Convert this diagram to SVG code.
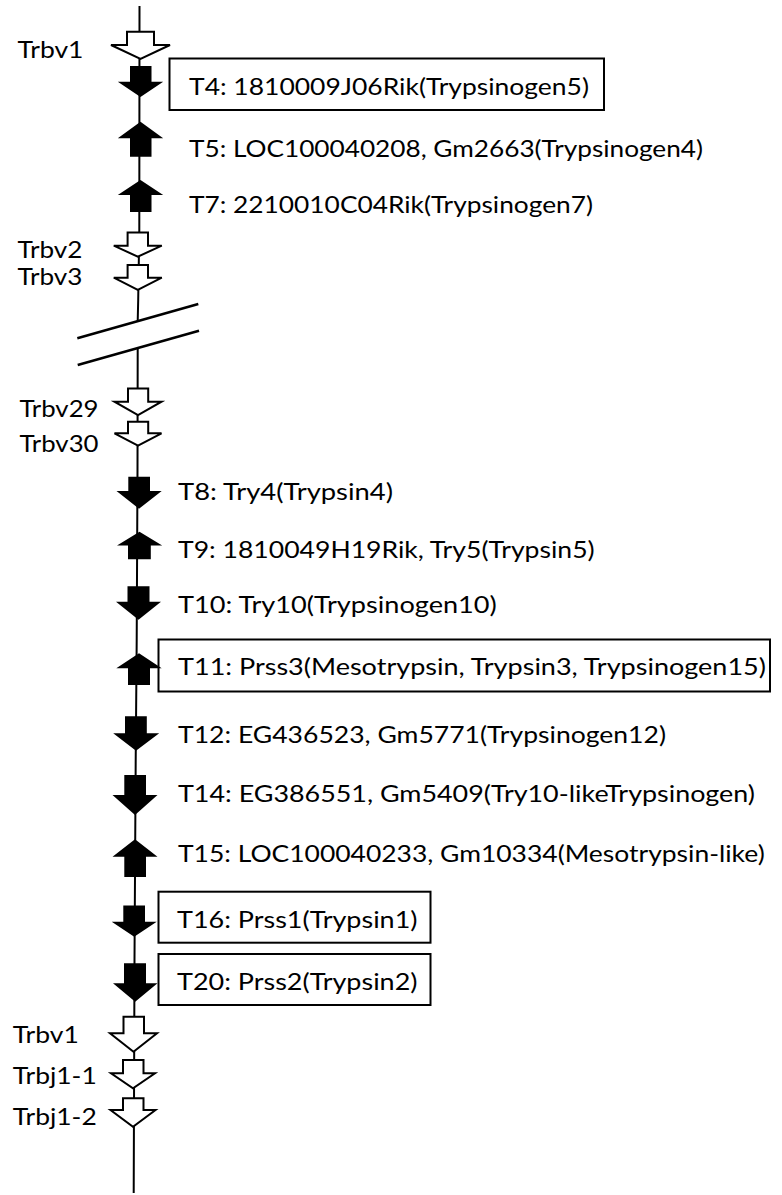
<svg xmlns="http://www.w3.org/2000/svg" width="782" height="1195" viewBox="0 0 782 1195">
<style>
.bg{fill:#ffffff}
.ln{fill:none;stroke:#000;stroke-width:2}
.brk{fill:none;stroke:#000;stroke-width:2.6}
.fa{fill:#000;stroke:none}
.oa{fill:#fff;stroke:#000;stroke-width:2;stroke-linejoin:miter}
.box{fill:none;stroke:#000;stroke-width:2}
text{font-family:Lato,"Open Sans","Liberation Sans",sans-serif;font-size:24px;fill:#000}
</style>
<rect class="bg" x="0" y="0" width="782" height="1195"/>
<g id="connectors">
<path class="ln" d="M139.5,6 L139.3,230 L138.2,300 L137.7,321.2"/>
<path class="ln" d="M137.7,348 L137.5,470 L136.7,640 L135.7,760 L134.5,960 L133.7,1193"/>
<line class="brk" x1="77.3" y1="338.3" x2="198.3" y2="304"/>
<line class="brk" x1="77.7" y1="365" x2="199" y2="330.7"/>
</g>
<g id="trbv1_top">
<polygon class="oa" points="127,31.7 154,31.7 154,45 170,45 140.5,59 111,45 127,45"/>
<text x="17.5" y="58.3" textLength="66" lengthAdjust="spacingAndGlyphs">Trbv1</text>
</g>
<g id="t4">
<polygon class="fa" points="130,66 151.5,66 151.5,81.7 163.2,81.7 140.5,97 117.8,81.7 130,81.7"/>
<rect class="box" x="169.5" y="58.5" width="434.5" height="51.5"/>
<text x="189" y="95" textLength="400" lengthAdjust="spacingAndGlyphs">T4: 1810009J06Rik(Trypsinogen5)</text>
</g>
<g id="t5">
<polygon class="fa" points="140.5,121.7 163.2,138.3 151.5,138.3 151.5,156.7 130,156.7 130,138.3 117.8,138.3"/>
<text x="189" y="156.7" textLength="514" lengthAdjust="spacingAndGlyphs">T5: LOC100040208, Gm2663(Trypsinogen4)</text>
</g>
<g id="t7">
<polygon class="fa" points="140.5,180 163.2,195 151.5,195 151.5,212 130,212 130,195 117.8,195"/>
<text x="189" y="213" textLength="404" lengthAdjust="spacingAndGlyphs">T7: 2210010C04Rik(Trypsinogen7)</text>
</g>
<g id="trbv2">
<polygon class="oa" points="127.6,232.5 148,232.5 148,245.7 161.8,245.7 137.8,256.7 113.8,245.7 127.6,245.7"/>
<text x="17.5" y="258.3" textLength="65" lengthAdjust="spacingAndGlyphs">Trbv2</text>
</g>
<g id="trbv3">
<polygon class="oa" points="127.6,265 148,265 148,277.7 161.8,277.7 137.8,290 113.8,277.7 127.6,277.7"/>
<text x="17.5" y="285" textLength="65" lengthAdjust="spacingAndGlyphs">Trbv3</text>
</g>
<g id="trbv29">
<polygon class="oa" points="128,388.5 148.2,388.5 148.2,401.7 161.5,401.7 138,415 114.5,401.7 128,401.7"/>
<text x="19.5" y="416.7" textLength="79" lengthAdjust="spacingAndGlyphs">Trbv29</text>
</g>
<g id="trbv30">
<polygon class="oa" points="128,421.7 148.2,421.7 148.2,433.3 161.5,433.3 138,445.7 114.5,433.3 128,433.3"/>
<text x="19.5" y="451.7" textLength="79" lengthAdjust="spacingAndGlyphs">Trbv30</text>
</g>
<g id="t8">
<polygon class="fa" points="128.3,476.7 150,476.7 150,491 161.7,491 139,508.7 116.5,491 128.3,491"/>
<text x="178" y="500" textLength="215" lengthAdjust="spacingAndGlyphs">T8: Try4(Trypsin4)</text>
</g>
<g id="t9">
<polygon class="fa" points="139.5,531.7 162.2,545.5 150.8,545.5 150.8,559.3 128,559.3 128,545.5 117,545.5"/>
<text x="178" y="558.3" textLength="416.7" lengthAdjust="spacingAndGlyphs">T9: 1810049H19Rik, Try5(Trypsin5)</text>
</g>
<g id="t10">
<polygon class="fa" points="127.5,586.3 149.5,586.3 149.5,601.7 161,601.7 138.5,619.7 116,601.7 127.5,601.7"/>
<text x="178" y="613.3" textLength="318.8" lengthAdjust="spacingAndGlyphs">T10: Try10(Trypsinogen10)</text>
</g>
<g id="t11">
<polygon class="fa" points="139,653.3 161.7,668.3 150,668.3 150,685 128,685 128,668.3 116.3,668.3"/>
<rect class="box" x="158.5" y="639.5" width="611.5" height="52"/>
<text x="178" y="675" textLength="588" lengthAdjust="spacingAndGlyphs">T11: Prss3(Mesotrypsin, Trypsin3, Trypsinogen15)</text>
</g>
<g id="t12">
<polygon class="fa" points="125,716.3 146.8,716.3 146.8,733.3 159.2,733.3 136,750.7 113.2,733.3 125,733.3"/>
<text x="178" y="743.3" textLength="488" lengthAdjust="spacingAndGlyphs">T12: EG436523, Gm5771(Trypsinogen12)</text>
</g>
<g id="t14">
<polygon class="fa" points="124.3,775 146,775 146,795 157.5,795 135,815 112.5,795 124.3,795"/>
<text x="178" y="801.7" textLength="577" lengthAdjust="spacingAndGlyphs">T14: EG386551, Gm5409(Try10-likeTrypsinogen)</text>
</g>
<g id="t15">
<polygon class="fa" points="135,839.3 157.5,856.7 146,856.7 146,877 124.3,877 124.3,856.7 112.5,856.7"/>
<text x="178" y="861.7" textLength="586.7" lengthAdjust="spacingAndGlyphs">T15: LOC100040233, Gm10334(Mesotrypsin-like)</text>
</g>
<g id="t16">
<polygon class="fa" points="123.3,905.5 145,905.5 145,921.7 156.7,921.7 134.2,936.7 111.7,921.7 123.3,921.7"/>
<rect class="box" x="158.5" y="891.7" width="272" height="51"/>
<text x="177" y="928.3" textLength="240.5" lengthAdjust="spacingAndGlyphs">T16: Prss1(Trypsin1)</text>
</g>
<g id="t20">
<polygon class="fa" points="124,963.3 146,963.3 146,983.3 157.5,983.3 135.2,1001.7 113,983.3 124,983.3"/>
<rect class="box" x="158.5" y="954" width="272" height="51"/>
<text x="177" y="990" textLength="240.5" lengthAdjust="spacingAndGlyphs">T20: Prss2(Trypsin2)</text>
</g>
<g id="trbv1_bottom">
<polygon class="oa" points="123.5,1016.8 144,1016.8 144,1033.3 157,1033.3 133.5,1051.7 110,1033.3 123.5,1033.3"/>
<text x="12.8" y="1043.3" textLength="66" lengthAdjust="spacingAndGlyphs">Trbv1</text>
</g>
<g id="trbj1_1">
<polygon class="oa" points="123,1060 143.5,1060 143.5,1073.3 155,1073.3 133,1088.3 111,1073.3 123,1073.3"/>
<text x="12.8" y="1084" textLength="84" lengthAdjust="spacingAndGlyphs">Trbj1-1</text>
</g>
<g id="trbj1_2">
<polygon class="oa" points="123,1098.3 143.5,1098.3 143.5,1110 155.5,1110 133,1126.7 110.5,1110 123,1110"/>
<text x="12.8" y="1125" textLength="84" lengthAdjust="spacingAndGlyphs">Trbj1-2</text>
</g>
</svg>
